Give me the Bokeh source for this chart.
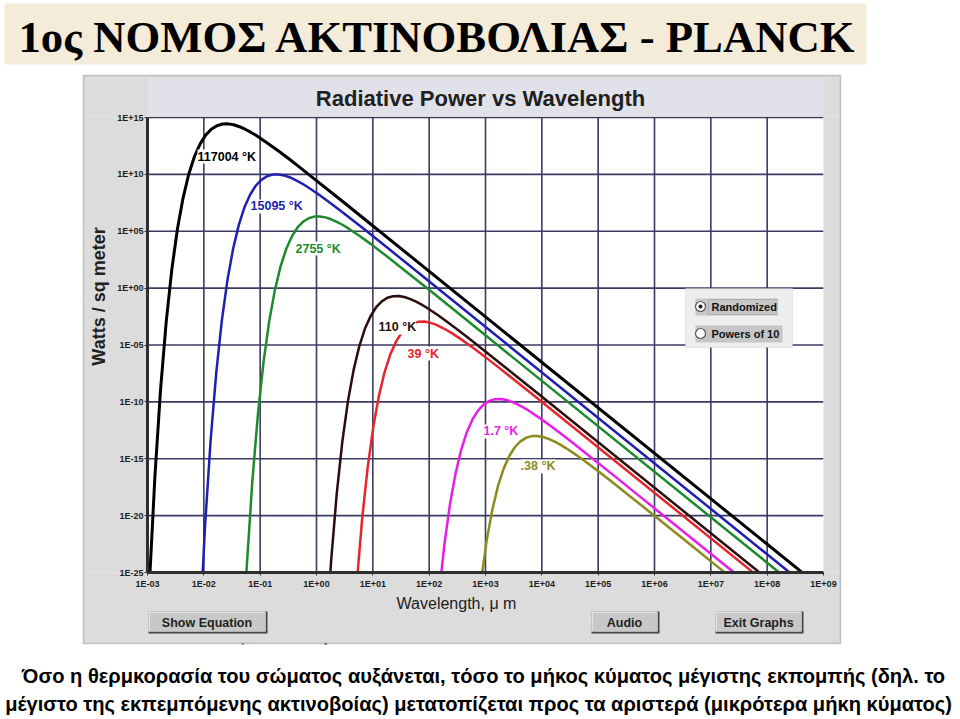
import math
from bokeh.plotting import figure
from bokeh.models import Range1d, FixedTicker, BoxAnnotation, Label, LabelSet, ColumnDataSource
from bokeh.core.properties import value
from bokeh.embed import file_html
from bokeh.resources import INLINE

# ---------------- data (log10 values) ----------------
curve_labels = ["117004 °K", "15095 °K", "2755 °K", "110 °K", "39 °K", "1.7 °K", ".38 °K"]
curve_colors = ["#000000", "#1f1fb0", "#1f8a2c", "#2b0d0d", "#e8242a", "#e61ee6", "#8c8c1e"]

t117004_log_wl = [-2.968, -2.868, -2.768, -2.668, -2.568, -2.468, -2.368, -2.268, -2.168, -2.068,
                  -1.968, -1.868, -1.768, -1.668, -1.568, -1.468, -1.368, -1.268, -1.168, -1.068,
                  -0.868, -0.668, -0.468, -0.268, -0.068, 0.432, 0.932, 8.932]
t117004_log_pw = [-26.22, -16.51, -8.90, -2.96, 1.65, 5.22, 7.94, 10.01, 11.55, 12.66,
                  13.45, 13.97, 14.28, 14.43, 14.44, 14.36, 14.19, 13.97, 13.71, 13.41,
                  12.74, 12.03, 11.28, 10.51, 9.72, 7.75, 5.75, -26.24]

t15095_log_wl = [-2.079, -1.979, -1.879, -1.779, -1.679, -1.579, -1.479, -1.379, -1.279, -1.179,
                 -1.079, -0.979, -0.879, -0.779, -0.679, -0.579, -0.479, -0.379, -0.279, -0.179,
                 0.021, 0.221, 0.421, 0.621, 0.821, 1.321, 1.821, 8.821]
t15095_log_pw = [-30.67, -20.96, -13.35, -7.41, -2.80, 0.77, 3.49, 5.56, 7.10, 8.21,
                 9.00, 9.52, 9.84, 9.98, 10.00, 9.91, 9.75, 9.52, 9.26, 8.96,
                 8.30, 7.58, 6.83, 6.06, 5.28, 3.30, 1.31, -26.69]

t2755_log_wl = [-1.340, -1.240, -1.140, -1.040, -0.940, -0.840, -0.740, -0.640, -0.540, -0.440,
                -0.340, -0.240, -0.140, -0.040, 0.060, 0.160, 0.260, 0.360, 0.460, 0.560,
                0.760, 0.960, 1.160, 1.360, 1.560, 2.060, 2.560, 8.560]
t2755_log_pw = [-34.36, -24.65, -17.04, -11.10, -6.49, -2.92, -0.20, 1.87, 3.41, 4.52,
                5.31, 5.83, 6.14, 6.29, 6.30, 6.22, 6.05, 5.83, 5.57, 5.27,
                4.60, 3.89, 3.14, 2.37, 1.58, -0.39, -2.39, -26.38]

t110_log_wl = [0.159, 0.259, 0.359, 0.459, 0.559, 0.659, 0.759, 0.859, 0.959, 1.059,
               1.159, 1.259, 1.359, 1.459, 1.559, 1.659, 1.759, 1.859, 1.959, 2.159,
               2.359, 2.559, 2.759, 2.959, 3.459, 3.959, 8.159]
t110_log_pw = [-31.64, -24.03, -18.09, -13.48, -9.91, -7.19, -5.12, -3.58, -2.47, -1.68,
               -1.16, -0.85, -0.71, -0.69, -0.78, -0.94, -1.16, -1.43, -1.73, -2.39,
               -3.11, -3.86, -4.63, -5.41, -7.39, -9.38, -26.18]

t39_log_wl = [0.709, 0.809, 0.909, 1.009, 1.109, 1.209, 1.309, 1.409, 1.509, 1.609,
              1.709, 1.809, 1.909, 2.009, 2.109, 2.209, 2.309, 2.409, 2.609, 2.809,
              3.009, 3.209, 3.409, 3.909, 4.409, 8.009]
t39_log_pw = [-26.29, -20.35, -15.74, -12.17, -9.45, -7.38, -5.84, -4.73, -3.94, -3.42,
              -3.10, -2.96, -2.94, -3.03, -3.19, -3.42, -3.68, -3.98, -4.64, -5.36,
              -6.11, -6.88, -7.66, -9.64, -11.63, -26.03]

t1_7_log_wl = [2.170, 2.270, 2.370, 2.470, 2.570, 2.670, 2.770, 2.870, 2.970, 3.070,
               3.170, 3.270, 3.370, 3.470, 3.570, 3.670, 3.770, 3.970, 4.170, 4.370,
               4.570, 4.770, 5.270, 5.770, 7.670]
t1_7_log_pw = [-27.15, -22.54, -18.97, -16.25, -14.18, -12.64, -11.53, -10.74, -10.22, -9.91,
               -9.76, -9.75, -9.83, -10.00, -10.22, -10.48, -10.78, -11.45, -12.16, -12.91,
               -13.68, -14.47, -16.44, -18.44, -26.03]

t0_38_log_wl = [2.920, 3.020, 3.120, 3.220, 3.320, 3.420, 3.520, 3.620, 3.720, 3.820,
                3.920, 4.020, 4.120, 4.220, 4.320, 4.420, 4.620, 4.820, 5.020, 5.220,
                5.420, 5.920, 6.420, 7.420]
t0_38_log_pw = [-25.79, -22.22, -19.50, -17.43, -15.89, -14.78, -13.99, -13.47, -13.16, -13.01,
                -13.00, -13.09, -13.25, -13.47, -13.74, -14.04, -14.70, -15.42, -16.17, -16.94,
                -17.72, -19.70, -21.69, -25.69]

label_log_wl = [-2.112, -1.171, -0.373, 1.101, 1.616, 2.965, 3.622]
label_log_pw = [11.57, 7.18, 3.48, -3.46, -5.75, -12.60, -15.68]

x_tick_labels = ["1E-03", "1E-02", "1E-01", "1E+00", "1E+01", "1E+02", "1E+03",
                 "1E+04", "1E+05", "1E+06", "1E+07", "1E+08", "1E+09"]
y_tick_labels = ["1E-25", "1E-20", "1E-15", "1E-10", "1E-05", "1E+00",
                 "1E+05", "1E+10", "1E+15"]

slide_title = "1ος ΝΟΜΟΣ ΑΚΤΙΝΟΒΟΛΙΑΣ - PLANCK"
chart_title = "Radiative Power vs Wavelength"
x_label = "Wavelength, μ m"
y_label = "Watts / sq meter"
caption_1 = "Όσο η θερμκορασία του σώματος αυξάνεται, τόσο το μήκος κύματος μέγιστης εκπομπής (δηλ. το"
caption_2 = "μέγιστο της εκπεμπόμενης ακτινοβοίας) μετατοπίζεται προς τα αριστερά (μικρότερα μήκη κύματος)"

curves = [
    (t117004_log_wl, t117004_log_pw),
    (t15095_log_wl, t15095_log_pw),
    (t2755_log_wl, t2755_log_pw),
    (t110_log_wl, t110_log_pw),
    (t39_log_wl, t39_log_pw),
    (t1_7_log_wl, t1_7_log_pw),
    (t0_38_log_wl, t0_38_log_pw),
]

# ---------------- layout (canvas pixels) ----------------
W, H = 956, 716
PL, PR, PT, PB = 147, 823, 117, 572          # plot area of the applet chart

x_ticks = [float(s) for s in x_tick_labels]
y_ticks = [float(s) for s in y_tick_labels]
x_dec = math.log10(x_ticks[-1] / x_ticks[0])
y_dec = math.log10(y_ticks[-1] / y_ticks[0])
dx = (PR - PL) / x_dec
dy = (PB - PT) / y_dec
x_lo = math.log10(x_ticks[0]) - PL / dx
x_hi = math.log10(x_ticks[-1]) + (W - PR) / dx
y_hi = math.log10(y_ticks[-1]) + PT / dy
y_lo = math.log10(y_ticks[0]) - (H - PB) / dy

p = figure(width=W, height=H, x_axis_type="log", y_axis_type="log",
           x_range=Range1d(10 ** x_lo, 10 ** x_hi), y_range=Range1d(10 ** y_lo, 10 ** y_hi),
           output_backend="svg", toolbar_location=None, title=None,
           min_border=0, min_border_left=0, min_border_right=0,
           min_border_top=0, min_border_bottom=0)
p.border_fill_color = "white"
p.background_fill_color = "white"
p.outline_line_color = None
p.grid.visible = False

p.xaxis.fixed_location = y_ticks[0]
p.yaxis.fixed_location = x_ticks[0]
p.xaxis.bounds = (x_ticks[0], x_ticks[-1])
p.yaxis.bounds = (y_ticks[0], y_ticks[-1])
p.xaxis.ticker = FixedTicker(ticks=x_ticks)
p.yaxis.ticker = FixedTicker(ticks=y_ticks)
p.xaxis.major_label_overrides = {t: s for t, s in zip(x_ticks, x_tick_labels)}
p.yaxis.major_label_overrides = {t: s for t, s in zip(y_ticks, y_tick_labels)}
p.axis.level = "overlay"
p.axis.axis_line_width = 3
p.axis.axis_line_color = "#2e2e2e"
p.axis.major_tick_in = 0
p.axis.major_tick_out = 3
p.axis.major_tick_line_color = "#2e2e2e"
p.axis.minor_tick_line_color = None
p.axis.major_label_text_font = "Liberation Sans"
p.axis.major_label_text_font_style = "bold"
p.axis.major_label_text_font_size = "9px"
p.axis.major_label_text_color = "#1e1e1e"
p.xaxis.major_label_standoff = 3
p.yaxis.major_label_standoff = 1

# grid lines of the chart, limited to the plot area
grid_color, grid_width = "#3b3b62", 1.6
gx = x_ticks[1:-1]
p.segment(x0=gx, y0=[y_ticks[0]] * len(gx), x1=gx, y1=[y_ticks[-1]] * len(gx),
          line_color=grid_color, line_width=grid_width, level="underlay")
gy = y_ticks[1:]
p.segment(x0=[x_ticks[0]] * len(gy), y0=gy, x1=[x_ticks[-1]] * len(gy), y1=gy,
          line_color=grid_color, line_width=grid_width, level="underlay")

# curves
for (lw, lpw), col in zip(curves, curve_colors):
    p.line([10 ** v for v in lw], [10 ** v for v in lpw], line_color=col,
           line_width=3 if col == "#000000" else 2.5, line_join="round")


def box(l, r, t, b, fill, line=None, lw=1, level="annotation", dash="solid"):
    p.add_layout(BoxAnnotation(left=l, right=r, top=t, bottom=b,
                               left_units="canvas", right_units="canvas",
                               top_units="canvas", bottom_units="canvas",
                               fill_color=fill, fill_alpha=1 if fill else 0,
                               line_color=line, line_width=lw, line_dash=dash, level=level))


def label(x, y, text, size, font="Liberation Sans", style="normal", color="#1a1a1a",
          align="left", baseline="middle", angle=0.0):
    p.add_layout(Label(x=x, y=y, x_units="canvas", y_units="canvas", text=text,
                       text_font=font, text_font_size=size, text_font_style=style,
                       text_color=color, text_align=align, text_baseline=baseline, angle=angle))


# white slide below the applet panel (masks the curve ends below 1E-25)
box(0, W, 644, H, "white")

# grey applet panel around the plot area
panel = "#dcdcdc"
box(83, 840, 75, 116, panel)
box(83, 840, 572, 643, panel)
box(83, PL, 116, 572, panel)
box(PR, 840, 116, 572, panel)
box(PL, PR, 77, 116, "#e1e1e9")
box(83, 840, 75, 643, None, line="#5a5a5a", lw=1.5)

# slide title band
box(4, 866, 3, 64, "#f4ebd8")
label(18, 36, slide_title, "44.7px", font="Liberation Serif", style="bold", color="#000000")

# curve labels
src = ColumnDataSource(dict(x=[10 ** v for v in label_log_wl], y=[10 ** v for v in label_log_pw],
                            text=curve_labels, label_color=curve_colors))
p.add_layout(LabelSet(x="x", y="y", text="text", source=src, text_color="label_color",
                      text_font=value("Liberation Sans"), text_font_style="bold",
                      text_font_size="12.5px", text_baseline="middle", text_align="left",
                      background_fill_color="white"))

# chart texts
label(480, 98, chart_title, "22px", style="bold", color="#202020", align="center")
label(98, 296, y_label, "18px", style="bold", color="#202020", align="center", angle=math.pi / 2)
label(456, 603, x_label, "16px", color="#202020", align="center")

# radio group
box(685, 792, 288, 347, "#eeeeee", line="#c4c4c4")
box(695, 777, 298, 315, "#c6c6c6")
box(695, 782, 325, 342, "#c6c6c6")
box(708, 777, 299, 314, None, line="#333333", lw=1, dash="1 1")
label(711, 306.5, "Randomized", "11px", style="bold", color="#111111")
label(711, 333.5, "Powers of 10", "11px", style="bold", color="#111111")
radio_log_wl = [6.817, 6.817]
radio_log_pw = [-1.615, -3.989]
p.scatter([10 ** v for v in radio_log_wl], [10 ** v for v in radio_log_pw], size=10,
          fill_color="white", line_color="#555555", line_width=1.2, level="overlay")
p.scatter([10 ** radio_log_wl[0]], [10 ** radio_log_pw[0]], size=4,
          fill_color="#111111", line_color=None, level="overlay")


def button(l, r, t, b, text):
    box(l, r, t, b, "#454545")
    box(l, r - 2, t, b - 2, "#fafafa")
    box(l + 1, r - 2, t + 1, b - 2, "#c8c8c8")
    label((l + r) / 2 - 1, (t + b) / 2, text, "12.5px", style="bold", color="#222222", align="center")


button(148, 267, 611, 633, "Show Equation")
button(591, 659, 611, 633, "Audio")
button(715, 803, 611, 633, "Exit Graphs")

# caption
label(483, 675, caption_1, "20.1px", style="bold", color="#000000", align="center")
label(478, 703, caption_2, "20.1px", style="bold", color="#000000", align="center")

open("out.html", "w").write(file_html(p, INLINE))
